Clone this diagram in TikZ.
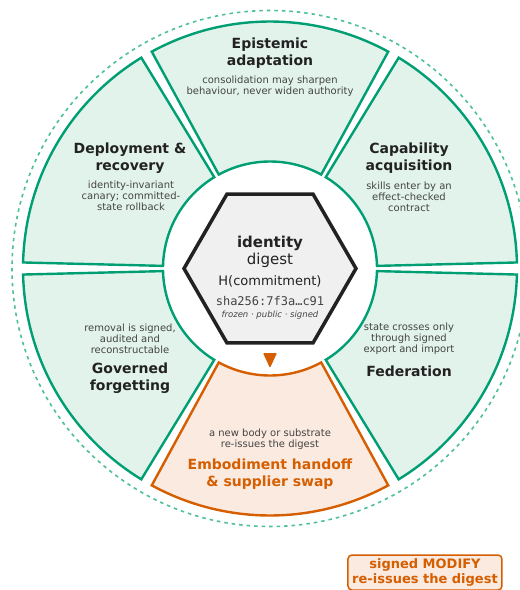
\documentclass[tikz,border=0pt]{standalone}
\usepackage{fontspec}
\setmainfont{DejaVu Sans}
\setmonofont{DejaVu Sans Mono}
\usetikzlibrary{shapes.geometric}
\definecolor{grn}{HTML}{009E73}
\definecolor{grnfill}{HTML}{E2F3EB}
\definecolor{org}{HTML}{D55E00}
\definecolor{orgfill}{HTML}{FBEAE0}
\definecolor{dashgrn}{HTML}{4DBF99}
\definecolor{hexfill}{HTML}{F0F0F0}
\definecolor{ink}{HTML}{222222}
\definecolor{bodytxt}{HTML}{444444}
\tikzset{
  seg/.style={draw=grn, fill=grnfill, line width=2.4pt, line join=miter},
  segorg/.style={draw=org, fill=orgfill, line width=2.4pt, line join=miter},
  ttl/.style={font=\fontsize{14}{16.5}\selectfont\bfseries, text=ink, align=center, inner sep=0pt},
  ttlorg/.style={ttl, text=org},
  bdy/.style={font=\fontsize{10}{11.2}\selectfont, text=bodytxt, align=center, inner sep=0pt},
  notebox/.style={draw=org, fill=orgfill, rounded corners=4pt, line width=1.5pt, minimum width=154pt, minimum height=35pt, font=\fontsize{13}{15}\selectfont\bfseries, text=org, align=center, inner sep=0pt},
  hexshape/.style={regular polygon, regular polygon sides=6, minimum size=172pt, inner sep=0pt, draw=ink, fill=hexfill, line width=3.5pt},
}
\begin{document}
\begin{tikzpicture}[x=1pt, y=1pt]
\useasboundingbox (-270,-321.5) rectangle (250,268.5);
% dashed outer ring
\draw[dashgrn, line width=1.6pt, dash pattern=on 3.5pt off 4pt] (0,0) circle[radius=258];
% segments
\draw[seg] (61.4:247) arc[start angle=61.4, end angle=118.6, radius=247] -- (118.6:107) arc[start angle=118.6, end angle=61.4, radius=107] -- cycle;
\draw[seg] (121.4:247) arc[start angle=121.4, end angle=178.6, radius=247] -- (178.6:107) arc[start angle=178.6, end angle=121.4, radius=107] -- cycle;
\draw[seg] (181.4:247) arc[start angle=181.4, end angle=238.6, radius=247] -- (238.6:107) arc[start angle=238.6, end angle=181.4, radius=107] -- cycle;
\draw[segorg] (241.4:247) arc[start angle=241.4, end angle=298.6, radius=247] -- (298.6:107) arc[start angle=298.6, end angle=241.4, radius=107] -- cycle;
\draw[seg] (301.4:247) arc[start angle=301.4, end angle=358.6, radius=247] -- (358.6:107) arc[start angle=358.6, end angle=301.4, radius=107] -- cycle;
\draw[seg] (1.4:247) arc[start angle=1.4, end angle=58.6, radius=247] -- (58.6:107) arc[start angle=58.6, end angle=1.4, radius=107] -- cycle;
% hexagon
\node[hexshape] (hex) at (0,0) {};
\node[font=\fontsize{15}{18}\selectfont\bfseries, text=ink, inner sep=0pt] (hid) at (0,25) {identity};
\node[font=\fontsize{15}{18}\selectfont, text=ink, inner sep=0pt] (hdg) at (0,8.5) {digest};
\node[font=\fontsize{13}{15}\selectfont, text=ink, inner sep=0pt] (hcm) at (0,-12.5) {H(commitment)};
\node[font=\fontsize{12}{14}\selectfont\ttfamily, text=ink!85, inner sep=0pt] (hsha) at (0,-32.5) {sha256:7f3a…c91};
\node[font=\fontsize{8.5}{10}\selectfont\itshape, text=bodytxt, inner sep=0pt] (hfz) at (0,-46.5) {frozen · public · signed};
% marker
\fill[org, rounded corners=1pt] (-7,-84.5) -- (7,-84.5) -- (0,-99.5) -- cycle;
% segment texts
\node[ttl] (t1) at (0,215.5) {Epistemic\\adaptation};
\node[bdy] (b1) at (0,182) {consolidation may sharpen\\behaviour, never widen authority};
\node[ttl] (t2) at (-140,110.5) {Deployment \&\\recovery};
\node[bdy] (b2) at (-139,72.5) {identity-invariant\\canary; committed-\\state rollback};
\node[ttl] (t3) at (139,110.5) {Capability\\acquisition};
\node[bdy] (b3) at (139,71.5) {skills enter by an\\effect-checked\\contract};
\node[bdy] (b4) at (-140,-70.5) {removal is signed,\\audited and\\reconstructable};
\node[ttl] (t4) at (-140,-109.5) {Governed\\forgetting};
\node[bdy] (b5) at (139,-70.5) {state crosses only\\through signed\\export and import};
\node[ttl] (t5) at (139,-102.5) {Federation};
\node[bdy] (b6) at (0,-171) {a new body or substrate\\re-issues the digest};
\node[ttlorg] (t6) at (0,-205.5) {Embodiment handoff\\\& supplier swap};
% note
\node[notebox] (note) at (155,-304) {signed MODIFY\\re-issues the digest};
\end{tikzpicture}
\end{document}
